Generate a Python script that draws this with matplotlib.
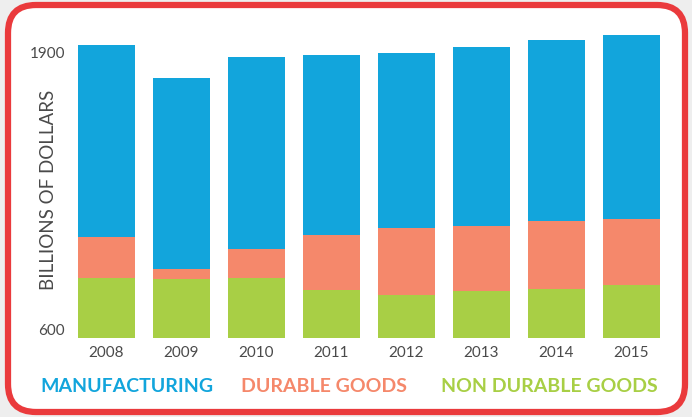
import matplotlib.pyplot as plt
from matplotlib.patches import FancyBboxPatch
import numpy as np

years = ['2008', '2009', '2010', '2011', '2012', '2013', '2014', '2015']
non_durable = [873, 868, 873, 818, 795, 814, 823, 841]
durable = [186, 46, 132, 250, 305, 295, 309, 300]
manufacturing = [873, 868, 872, 818, 795, 814, 822, 836]

blue = '#12a5dc'
salmon = '#f5886b'
green = '#a8cf45'
red = '#ea3a3c'
grey = '#4a4a4a'

plt.rcParams['font.family'] = ['Lato', 'DejaVu Sans']

fig = plt.figure(figsize=(6.92, 4.17), dpi=100, facecolor='#eeeeee')

# rounded frame
bg = fig.add_axes([0, 0, 1, 1], zorder=0)
bg.set_xlim(0, 692)
bg.set_ylim(0, 417)
bg.axis('off')
bg.add_patch(FancyBboxPatch((8, 5), 677, 407,
                            boxstyle='round,pad=0,rounding_size=28',
                            fc='white', ec=red, lw=4.5))

ax = fig.add_axes([69 / 692, 79 / 417, 600 / 692, 308 / 417], zorder=1)
ax.patch.set_alpha(0)

x = np.arange(len(years))
w = 0.76
nd = np.array(non_durable)
du = np.array(durable)
ma = np.array(manufacturing)
ax.bar(x, nd, w, color=green)
ax.bar(x, du, w, bottom=nd, color=salmon)
ax.bar(x, ma, w, bottom=nd + du, color=blue)

ax.set_xlim(-0.5, 7.5)
ax.set_ylim(600, 2000)
ax.set_yticks([600, 1900])
ax.set_yticklabels(['600', '1900'])
ax.set_xticks(x)
ax.set_xticklabels(years)
ax.tick_params(length=0, labelsize=11, colors=grey, pad=6)
ax.tick_params(axis='y', pad=3)
ax.get_yticklabels()[0].set_va('bottom')
for s in ax.spines.values():
    s.set_visible(False)

fig.text(49 / 692, 1 - 190 / 417, 'BILLIONS OF DOLLARS', rotation=90,
         fontsize=13.5, color=grey, ha='center', va='center')

fig.text(40 / 692, 1 - 386 / 417, 'MANUFACTURING', color=blue, fontsize=14,
         fontweight='bold', va='center', ha='left')
fig.text(241 / 692, 1 - 386 / 417, 'DURABLE GOODS', color=salmon, fontsize=14,
         fontweight='bold', va='center', ha='left')
fig.text(441 / 692, 1 - 386 / 417, 'NON DURABLE GOODS', color=green, fontsize=14,
         fontweight='bold', va='center', ha='left')

fig.savefig('out.png', dpi=100, facecolor=fig.get_facecolor())
